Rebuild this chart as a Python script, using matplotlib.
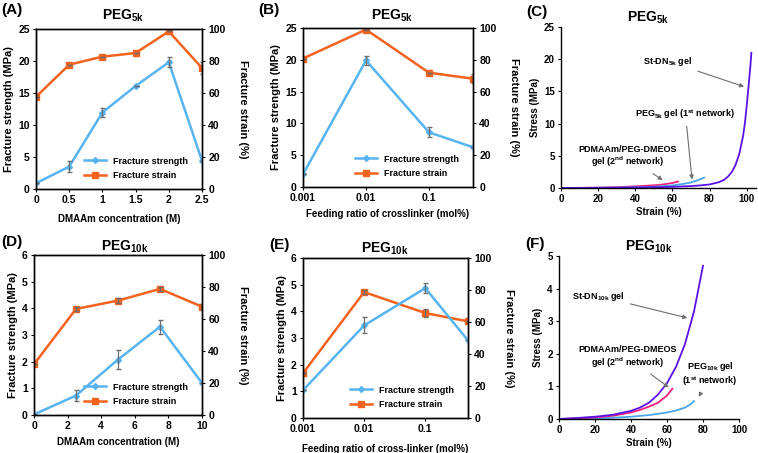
import numpy as np
import matplotlib
matplotlib.use("Agg")
import matplotlib.pyplot as plt
from matplotlib.lines import Line2D

plt.rcParams["font.family"] = ["Liberation Sans", "DejaVu Sans"]
plt.rcParams["font.weight"] = "bold"
plt.rcParams["mathtext.fontset"] = "custom"
plt.rcParams["mathtext.bf"] = "Liberation Sans:bold"
plt.rcParams["mathtext.rm"] = "Liberation Sans:bold"
plt.rcParams["mathtext.default"] = "bf"

# (A) PEG5k, DMAAm concentration
conc_a = [0, 0.5, 1, 1.5, 2, 2.5]
strength_a = [0.9, 3.5, 11.95, 16.1, 19.8, 4.4]
strength_err_a = [0, 0.8, 0.7, 0, 0.8, 0]
strain_a = [57.6, 77.7, 82.7, 85.0, 98.5, 75.6]
strain_err_a = [0, 0, 0, 0, 0, 3.5]

# (B) PEG5k, crosslinker ratio
ratio_b = [0.001, 0.01, 0.1, 0.5]
strength_b = [2.0, 19.9, 8.6, 6.25]
strength_err_b = [0, 0.75, 0.8, 0]
strain_b = [80.8, 99.0, 71.9, 68.1]
strain_err_b = [0, 0, 0, 3.0]

# (D) PEG10k, DMAAm concentration
conc_d = [0, 2.5, 5, 7.5, 10]
strength_d = [0.02, 0.73, 2.08, 3.31, 1.2]
strength_err_d = [0, 0.22, 0.37, 0.27, 0]
strain_d = [31.7, 66.3, 71.5, 78.8, 67.7]
strain_err_d = [0, 1.2, 1.5, 1.2, 1.5]

# (E) PEG10k, cross-linker ratio
ratio_e = [0.001, 0.01, 0.1, 0.5]
strength_e = [1.04, 3.47, 4.87, 2.91]
strength_err_e = [0, 0.3, 0.2, 0]
strain_e = [28.0, 78.7, 65.6, 60.4]
strain_err_e = [0, 1.5, 2.5, 0]

# (C) stress-strain curves, PEG5k
dn5_strain = [0, 10, 20, 30, 40, 50, 60, 70, 75, 80, 85, 88, 90, 92, 94, 96, 98, 99, 100, 101, 102, 102.5]
dn5_stress = [0, 0.01, 0.03, 0.05, 0.08, 0.12, 0.18, 0.3, 0.4, 0.55, 0.9, 1.3, 1.8, 2.5, 3.6, 5.3, 8.0, 10.0, 12.8, 15.8, 19.0, 21.0]
peg5_strain = [0, 20, 40, 50, 60, 65, 70, 74, 77]
peg5_stress = [0, 0.02, 0.1, 0.2, 0.4, 0.6, 0.85, 1.25, 1.6]
pd5_strain = [0, 20, 30, 40, 50, 55, 60, 63]
pd5_stress = [0, 0.05, 0.12, 0.25, 0.42, 0.55, 0.78, 1.0]

# (F) stress-strain curves, PEG10k
dn10_strain = [0, 10, 20, 30, 40, 45, 50, 55, 60, 65, 70, 75, 80]
dn10_stress = [0, 0.03, 0.07, 0.13, 0.25, 0.35, 0.5, 0.75, 1.1, 1.6, 2.3, 3.3, 4.7]
pd10_strain = [0, 10, 20, 30, 40, 45, 50, 55, 60, 63]
pd10_stress = [0, 0.02, 0.05, 0.1, 0.2, 0.28, 0.38, 0.5, 0.72, 0.93]
peg10_strain = [0, 20, 30, 40, 50, 60, 65, 70, 73, 75]
peg10_stress = [0, 0.02, 0.04, 0.07, 0.12, 0.2, 0.26, 0.35, 0.45, 0.55]

BLUE = "#58B4F0"
ORANGE = "#F2631E"
GREY = "#6E6E6E"
PURPLE = "#5A12E6"
CBLUE = "#4AA6E8"
PINK = "#F2207A"

fig = plt.figure(figsize=(7.58, 4.53), dpi=100)
W, H = 758.0, 453.0


def box(x0, y0, x1, y1):
    return [x0 / W, 1 - y1 / H, (x1 - x0) / W, (y1 - y0) / H]


def style(ax, fs=7.5):
    ax.tick_params(direction="out", length=2.5, width=0.8, labelsize=fs, pad=2)
    for s in ax.spines.values():
        s.set_linewidth(1.0)
    for lab in ax.get_xticklabels() + ax.get_yticklabels():
        lab.set_fontweight("bold")


def dual(rect, x, st, st_err, sn, sn_err, smax, sticks, log):
    ax = fig.add_axes(rect)
    ax2 = ax.twinx()
    ax2.plot(x, sn, color=ORANGE, lw=1.8, marker="s", ms=5)
    ax2.errorbar(x, sn, yerr=sn_err, fmt="none", ecolor=GREY, elinewidth=0.9, capsize=1.8)
    ax.plot(x, st, color=BLUE, lw=1.8, marker="D", ms=3)
    ax.errorbar(x, st, yerr=st_err, fmt="none", ecolor=GREY, elinewidth=0.9, capsize=1.8)
    ax.set_zorder(ax2.get_zorder() + 1)
    ax.patch.set_visible(False)
    ax.set_ylim(0, smax)
    ax.set_yticks(sticks)
    ax2.set_ylim(0, 100)
    ax2.set_yticks(range(0, 101, 20))
    if log:
        ax.set_xscale("log")
        ax.set_xlim(x[0], x[-1])
        ax.set_xticks([0.001, 0.01, 0.1])
        ax.set_xticklabels(["0.001", "0.01", "0.1"])
        ax.minorticks_off()
    else:
        ax.set_xlim(x[0], x[-1])
    ax.set_ylabel("Fracture strength (MPa)", fontsize=8, fontweight="bold", labelpad=3)
    ax2.set_ylabel("Fracture strain (%)", fontsize=8, fontweight="bold", rotation=-90, labelpad=16)
    style(ax)
    style(ax2)
    handles = [
        Line2D([], [], color=BLUE, lw=1.8, marker="D", ms=3),
        Line2D([], [], color=ORANGE, lw=1.8, marker="s", ms=5),
    ]
    ax.legend(handles, ["Fracture strength", "Fracture strain"], loc="lower right",
              frameon=False, fontsize=6.5, numpoints=1, handlelength=2.4,
              borderaxespad=0.6, labelspacing=0.6, bbox_to_anchor=(0.97, 0.0))
    return ax


axA = dual(box(36, 29, 202, 189), conc_a, strength_a, strength_err_a, strain_a, strain_err_a,
           25, range(0, 26, 5), False)
axA.set_xticks(conc_a)
axA.set_xticklabels(["0", "0.5", "1", "1.5", "2", "2.5"])
axA.set_xlabel("DMAAm concentration (M)", fontsize=7, fontweight="bold", labelpad=6)

axB = dual(box(303, 28, 473, 187), ratio_b, strength_b, strength_err_b, strain_b, strain_err_b,
           25, range(0, 26, 5), True)
axB.set_xlabel("Feeding ratio of crosslinker (mol%)", fontsize=7, fontweight="bold", labelpad=4)

axD = dual(box(34, 255, 202, 415), conc_d, strength_d, strength_err_d, strain_d, strain_err_d,
           6, range(0, 7), False)
axD.set_xticks(range(0, 11, 2))
axD.set_xlabel("DMAAm concentration (M)", fontsize=7, fontweight="bold", labelpad=4)

axE = dual(box(303, 258, 468, 418), ratio_e, strength_e, strength_err_e, strain_e, strain_err_e,
           6, range(0, 7), True)
axE.set_xlabel("Feeding ratio of cross-linker (mol%)", fontsize=7, fontweight="bold", labelpad=7)

for ax in (axA, axB, axD, axE):
    for lab in ax.get_xticklabels() + ax.get_yticklabels():
        lab.set_fontweight("bold")

# (C)
axC = fig.add_axes(box(561, 27, 756, 188))
axC.plot(pd5_strain, pd5_stress, color=PINK, lw=1.3)
axC.plot(peg5_strain, peg5_stress, color=CBLUE, lw=1.3)
axC.plot(dn5_strain, dn5_stress, color=PURPLE, lw=1.3)
axC.set_xlim(0, 105)
axC.set_ylim(0, 25)
axC.set_xticks(range(0, 101, 20))
axC.set_yticks(range(0, 26, 5))
axC.set_xlabel("Strain (%)", fontsize=7, fontweight="bold", labelpad=2)
axC.set_ylabel("Stress (MPa)", fontsize=7, fontweight="bold", labelpad=3)
arrow = dict(arrowstyle="-|>", color=GREY, lw=0.8, mutation_scale=6)
axC.annotate("St-DN$_{5k}$ gel", xy=(100, 15.6), xytext=(57.5, 19.7), fontsize=6.5,
             fontweight="bold", ha="center", va="center", arrowprops=arrow)
axC.annotate("PEG$_{5k}$ gel (1$^{st}$ network)", xy=(70.7, 0.9), xytext=(67, 11.5), fontsize=6.5,
             fontweight="bold", ha="center", va="center", arrowprops=arrow)
axC.annotate("PDMAAm/PEG-DMEOS\ngel (2$^{nd}$ network)", xy=(56, 1.0), xytext=(36, 4.8),
             fontsize=6.5, fontweight="bold", ha="center", va="center", linespacing=1.1,
             arrowprops=arrow)

# (F)
axF = fig.add_axes(box(559, 256, 739, 419))
axF.plot(peg10_strain, peg10_stress, color=CBLUE, lw=1.3)
axF.plot(pd10_strain, pd10_stress, color=PINK, lw=1.3)
axF.plot(dn10_strain, dn10_stress, color=PURPLE, lw=1.3)
axF.set_xlim(0, 100)
axF.set_ylim(0, 5)
axF.set_xticks(range(0, 101, 20))
axF.set_yticks(range(0, 6))
axF.set_xlabel("Strain (%)", fontsize=7, fontweight="bold", labelpad=2)
axF.set_ylabel("Stress (MPa)", fontsize=7, fontweight="bold", labelpad=3)
axF.annotate("St-DN$_{10k}$ gel", xy=(72.8, 3.08), xytext=(22, 3.77), fontsize=6.5,
             fontweight="bold", ha="center", va="center", arrowprops=arrow)
axF.annotate("PDMAAm/PEG-DMEOS\ngel (2$^{nd}$ network)", xy=(62.2, 0.92), xytext=(38.3, 1.89),
             fontsize=6.5, fontweight="bold", ha="center", va="center", linespacing=1.1,
             arrowprops=arrow)
axF.annotate("PEG$_{10k}$ gel\n(1$^{st}$ network)", xy=(77, 0.6), xytext=(84, 1.38),
             fontsize=6.5, fontweight="bold", ha="center", va="center", linespacing=1.1,
             arrowprops=arrow)

for ax in (axC, axF):
    ax.spines["top"].set_visible(False)
    ax.spines["right"].set_visible(False)
    style(ax, fs=7)

# titles and panel labels
titles = [(123, 16, "PEG$_{5k}$"), (392, 16, "PEG$_{5k}$"), (648, 18, "PEG$_{5k}$"),
          (125, 247, "PEG$_{10k}$"), (385, 249, "PEG$_{10k}$"), (649, 247, "PEG$_{10k}$")]
for x, y, t in titles:
    fig.text(x / W, 1 - y / H, t, fontsize=10, fontweight="bold", ha="center", va="center")

labels = [(1, 10, "(A)"), (258, 10, "(B)"), (526, 12, "(C)"),
          (1, 242, "(D)"), (269, 245, "(E)"), (525, 244, "(F)")]
for x, y, t in labels:
    fig.text(x / W, 1 - y / H, t, fontsize=11, fontweight="bold", ha="left", va="center")

fig.savefig("out.png", dpi=100)
